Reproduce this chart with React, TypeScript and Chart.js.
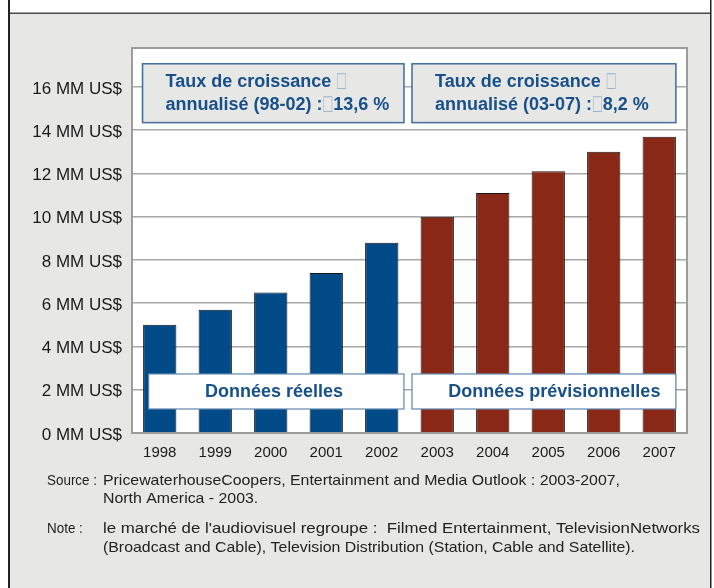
import React, { useEffect, useRef } from 'react';
import { Chart, registerables } from 'chart.js';

Chart.register(...registerables);

const years = ['1998', '1999', '2000', '2001', '2002', '2003', '2004', '2005', '2006', '2007'];
const actualValues = [5.0, 5.7, 6.5, 7.4, 8.8, null, null, null, null, null];
const forecastValues = [null, null, null, null, null, 10.0, 11.1, 12.1, 13.0, 13.7];
const yTicks = [0, 2, 4, 6, 8, 10, 12, 14, 16];
const yUnit = 'MM US$';

const rateLabels = [
  { line1: ['Taux de croissance ', '\u25A1'], line2: ['annualisé (98-02) :', '\u25A1', '13,6 %'] },
  { line1: ['Taux de croissance ', '\u25A1'], line2: ['annualisé (03-07) :', '\u25A1', '8,2 %'] },
];
const periodLabels = ['Données réelles', 'Données prévisionnelles'];
const sourceLines = [
  ['Source :', 'PricewaterhouseCoopers, Entertainment and Media Outlook : 2003-2007,'],
  ['', 'North America - 2003.'],
  ['Note :', "le marché de l'audiovisuel regroupe :  Filmed Entertainment, TelevisionNetworks"],
  ['', '(Broadcast and Cable), Television Distribution (Station, Cable and Satellite).'],
];

const BLUE = '#004a87';
const RED = '#8a2818';
const TEXT_BLUE = '#17508a';
const BOX_BORDER = '#3f6c9c';
const BG = '#e7e7e6';
const FONT = '"Liberation Sans", Arial, sans-serif';

// annotation geometry (category index units / value units)
const rateBoxes = [
  { from: -0.31, to: 4.4, top: 17.07, bottom: 14.35 },
  { from: 4.545, to: 9.3, top: 17.07, bottom: 14.35 },
];
const periodBoxes = [
  { from: -0.2, to: 4.4, top: 2.73, bottom: 1.11, textAt: 2.06 },
  { from: 4.545, to: 9.3, top: 2.73, bottom: 1.11, textAt: 7.11 },
];
// layout of the notes under the chart
const noteRows = [481, 499, 529, 548];
const noteLineEnd3 = 700;

const decorPlugin = {
  id: 'decor',
  beforeDraw(chart: any) {
    const { ctx, chartArea: a, width, height } = chart;
    ctx.save();
    ctx.fillStyle = '#ffffff';
    ctx.fillRect(0, 0, width, height);
    ctx.fillStyle = BG;
    ctx.fillRect(9, 13, 701, height - 13);
    ctx.fillStyle = '#ffffff';
    ctx.fillRect(a.left, a.top, a.right - a.left, a.bottom - a.top);
    ctx.restore();
  },
  afterDatasetsDraw(chart: any) {
    const { ctx, chartArea: a } = chart;
    const xs = chart.scales.x;
    const ys = chart.scales.y;
    ctx.save();
    ctx.strokeStyle = '#9c9c9c';
    ctx.lineWidth = 2;
    ctx.strokeRect(a.left, a.top, a.right - a.left, a.bottom - a.top);

    rateBoxes.forEach((b, i) => {
      const x1 = xs.getPixelForValue(b.from);
      const x2 = xs.getPixelForValue(b.to);
      const y1 = ys.getPixelForValue(b.top);
      const y2 = ys.getPixelForValue(b.bottom);
      ctx.fillStyle = BG;
      ctx.fillRect(x1, y1, x2 - x1, y2 - y1);
      ctx.strokeStyle = BOX_BORDER;
      ctx.lineWidth = 1.5;
      ctx.strokeRect(x1, y1, x2 - x1, y2 - y1);
      const lab = rateLabels[i];
      ctx.textBaseline = 'middle';
      ctx.textAlign = 'left';
      const drawSegs = (segs: string[], y: number) => {
        let x = x1 + 23;
        segs.forEach((s) => {
          const isBox = s === '\u25A1';
          if (isBox) {
            ctx.save();
            ctx.font = `18px ${FONT}`;
            ctx.fillStyle = '#9fb3ca';
            ctx.translate(x + 1, y);
            ctx.scale(0.8, 1.45);
            ctx.fillText(s, 0, 0);
            const w = ctx.measureText(s).width * 0.8 + 2;
            ctx.restore();
            x += w;
          } else {
            ctx.font = `bold 18px ${FONT}`;
            ctx.fillStyle = TEXT_BLUE;
            ctx.fillText(s, x, y);
            x += ctx.measureText(s).width;
          }
        });
      };
      drawSegs(lab.line1, y1 + 18.5);
      drawSegs(lab.line2, y1 + 41.5);
    });

    periodBoxes.forEach((b, i) => {
      const x1 = xs.getPixelForValue(b.from);
      const x2 = xs.getPixelForValue(b.to);
      const y1 = ys.getPixelForValue(b.top);
      const y2 = ys.getPixelForValue(b.bottom);
      ctx.fillStyle = '#ffffff';
      ctx.fillRect(x1, y1, x2 - x1, y2 - y1);
      ctx.strokeStyle = '#5f86ad';
      ctx.lineWidth = 1.2;
      ctx.strokeRect(x1, y1, x2 - x1, y2 - y1);
      ctx.font = `bold 18px ${FONT}`;
      ctx.fillStyle = TEXT_BLUE;
      ctx.textAlign = 'center';
      ctx.textBaseline = 'middle';
      ctx.fillText(periodLabels[i], xs.getPixelForValue(b.textAt), (y1 + y2) / 2 + 1);
    });
    ctx.restore();
  },
  afterDraw(chart: any) {
    const { ctx, height } = chart;
    ctx.save();
    ctx.strokeStyle = '#4a4a4a';
    ctx.lineWidth = 1.5;
    ctx.beginPath();
    ctx.moveTo(8, 13.25);
    ctx.lineTo(711, 13.25);
    ctx.stroke();
    ctx.strokeStyle = '#222222';
    ctx.lineWidth = 2;
    ctx.beginPath();
    ctx.moveTo(9, 0);
    ctx.lineTo(9, height);
    ctx.stroke();
    ctx.lineWidth = 1.5;
    ctx.beginPath();
    ctx.moveTo(710.75, 0);
    ctx.lineTo(710.75, height);
    ctx.stroke();

    ctx.font = `15px ${FONT}`;
    ctx.fillStyle = '#222222';
    ctx.textBaseline = 'middle';
    ctx.textAlign = 'left';
    const baseScale = (620 - 103) / ctx.measureText(sourceLines[0][1]).width;
    const headScale = 50 / ctx.measureText(sourceLines[0][0]).width;
    sourceLines.forEach((ln, i) => {
      if (ln[0]) {
        ctx.save();
        ctx.translate(47, noteRows[i]);
        ctx.scale(headScale, 1);
        ctx.fillText(ln[0], 0, 0);
        ctx.restore();
      }
      const sx = i === 2 ? (noteLineEnd3 - 103) / ctx.measureText(ln[1]).width : baseScale;
      ctx.save();
      ctx.translate(103, noteRows[i]);
      ctx.scale(sx, 1);
      ctx.fillText(ln[1], 0, 0);
      ctx.restore();
    });
    ctx.restore();
  },
};

export default function App() {
  const ref = useRef<HTMLCanvasElement | null>(null);
  useEffect(() => {
    document.body.style.margin = '0';
    const chart = new Chart(ref.current as HTMLCanvasElement, {
      type: 'bar',
      data: {
        labels: years,
        datasets: [
          {
            label: 'Données réelles',
            data: actualValues,
            backgroundColor: BLUE,
            borderColor: '#151515',
            borderWidth: 1,
            grouped: false,
            barPercentage: 0.6,
            categoryPercentage: 1,
          } as any,
          {
            label: 'Données prévisionnelles',
            data: forecastValues,
            backgroundColor: RED,
            borderColor: '#151515',
            borderWidth: 1,
            grouped: false,
            barPercentage: 0.6,
            categoryPercentage: 1,
          } as any,
        ],
      },
      options: {
        responsive: false,
        animation: false,
        devicePixelRatio: 1,
        layout: { padding: { left: 0, right: 27, top: 48, bottom: 0 } },
        plugins: { legend: { display: false }, tooltip: { enabled: false } },
        scales: {
          x: {
            grid: { display: false, drawTicks: false },
            border: { display: false },
            ticks: { color: '#1a1a1a', font: { family: FONT, size: 15 }, padding: 11, maxRotation: 0 },
            afterFit: (s: any) => { s.height = 155; },
          },
          y: {
            min: 0,
            max: 17.8,
            grid: { color: '#a8a8a8', lineWidth: 1.5, drawTicks: false },
            border: { display: false },
            afterBuildTicks: (s: any) => { s.ticks = yTicks.map((v) => ({ value: v })); },
            ticks: {
              color: '#1a1a1a',
              font: { family: FONT, size: 17 },
              padding: 10,
              labelOffset: 2,
              callback: (v: any) => `${v} ${yUnit}`,
            },
            afterFit: (s: any) => { s.width = 132; },
          },
        },
      },
      plugins: [decorPlugin],
    });
    return () => chart.destroy();
  }, []);
  return <canvas ref={ref} width={714} height={588} style={{ display: 'block' }} />;
}
